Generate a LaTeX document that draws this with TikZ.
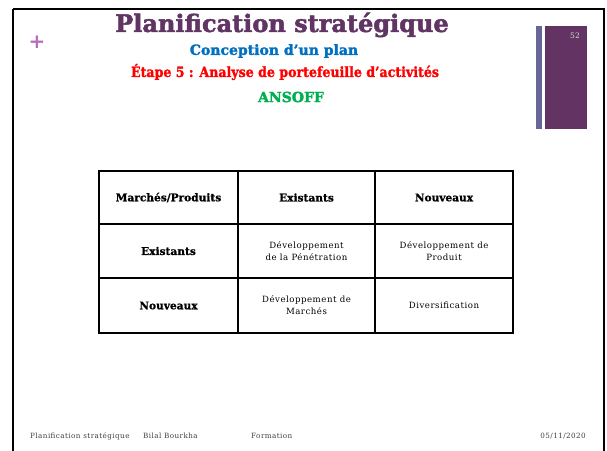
\documentclass[tikz,border=0pt]{standalone}
\usepackage{fontspec}
\setmainfont{DejaVu Serif}
\newfontfamily\heavyfont[FakeBold=2]{DejaVu Serif Bold}
\newfontfamily\headfont[FakeBold=1]{DejaVu Serif Bold}
\newfontfamily\condfont[FakeBold=1.5]{DejaVu Serif Condensed Bold}
\newfontfamily\bodyfont[LetterSpace=6]{DejaVu Serif}
\definecolor{titlepurple}{RGB}{96,52,99}
\definecolor{barpurple}{RGB}{99,52,99}
\definecolor{barblue}{RGB}{103,103,150}
\definecolor{pluscol}{RGB}{184,108,192}
\definecolor{subblue}{RGB}{0,112,192}
\definecolor{ansgreen}{RGB}{0,176,80}
\tikzset{
  cellhead/.style={font=\headfont\fontsize{10.6}{12}\selectfont, align=center, inner sep=0pt},
  cellbody/.style={font=\bodyfont\fontsize{8.6}{12}\selectfont, align=center, inner sep=0pt},
  gridline/.style={line width=1.2pt, black},
  foot/.style={font=\bodyfont\fontsize{7.2}{8}\selectfont, text=black!75, anchor=west, inner sep=0pt}
}
\begin{document}
\begin{tikzpicture}[x=1pt,y=-1pt]
\useasboundingbox (0,0) rectangle (607,450);
\fill[white] (0,0) rectangle (607,450);
\begin{scope}
\clip (0,0) rectangle (607,450);
\draw[line width=2.5pt] (13,9) -- (604,9) -- (604,470);
\draw[line width=2.5pt] (13,9) -- (13,470);
\end{scope}
% side bars
\fill[barblue] (536,26) rectangle (542,129);
\fill[barpurple] (545,26) rectangle (587,129);
\node[text=white!85!black, font=\fontsize{7.5}{8}\selectfont, inner sep=0pt] (pg) at (575,36) {52};
% plus
\node[text=pluscol, font=\bfseries\fontsize{20}{20}\selectfont, inner sep=0pt] (plus) at (37,42) {+};
% titles
\node[text=titlepurple, font=\heavyfont\fontsize{24}{26}\selectfont, inner sep=0pt] (title) at (282,25) {Planification stratégique};
\node[text=subblue, font=\heavyfont\fontsize{14}{15}\selectfont, inner sep=0pt] (sub) at (274,51) {Conception d’un plan};
\node[text=red, font=\condfont\fontsize{14}{15}\selectfont, inner sep=0pt] (step) at (285,72) {Étape 5 : Analyse de portefeuille d’activités};
\node[text=ansgreen, font=\heavyfont\fontsize{14}{15}\selectfont, inner sep=0pt] (ans) at (291,97) {ANSOFF};
% table
\coordinate (tl) at (99,171);
\coordinate (br) at (513,333);
\draw[gridline] (tl) rectangle (br);
\draw[gridline] (238,171) -- (238,333);
\draw[gridline] (375,171) -- (375,333);
\draw[gridline] (99,224) -- (513,224);
\draw[gridline] (99,278) -- (513,278);
\node[cellhead] (h0) at (168.5,197.5) {Marchés/Produits};
\node[cellhead] (h1) at (306.5,197.5) {Existants};
\node[cellhead] (h2) at (444,197.5) {Nouveaux};
\node[cellhead] (r1) at (168.5,251) {Existants};
\node[cellbody] (c11) at (306.5,251) {Développement\\de la Pénétration};
\node[cellbody] (c12) at (444,251) {Développement de\\Produit};
\node[cellhead] (r2) at (168.5,305.5) {Nouveaux};
\node[cellbody] (c21) at (306.5,305.5) {Développement de\\Marchés};
\node[cellbody] (c22) at (444,305.5) {Diversification};
% footer
\node[foot] (f1) at (30,436) {Planification stratégique};
\node[foot] (f1b) at (143,436) {Bilal Bourkha};
\node[foot] (f2) at (251,436) {Formation};
\node[foot, anchor=east] (f3) at (586,436) {05/11/2020};
\end{tikzpicture}
\end{document}
